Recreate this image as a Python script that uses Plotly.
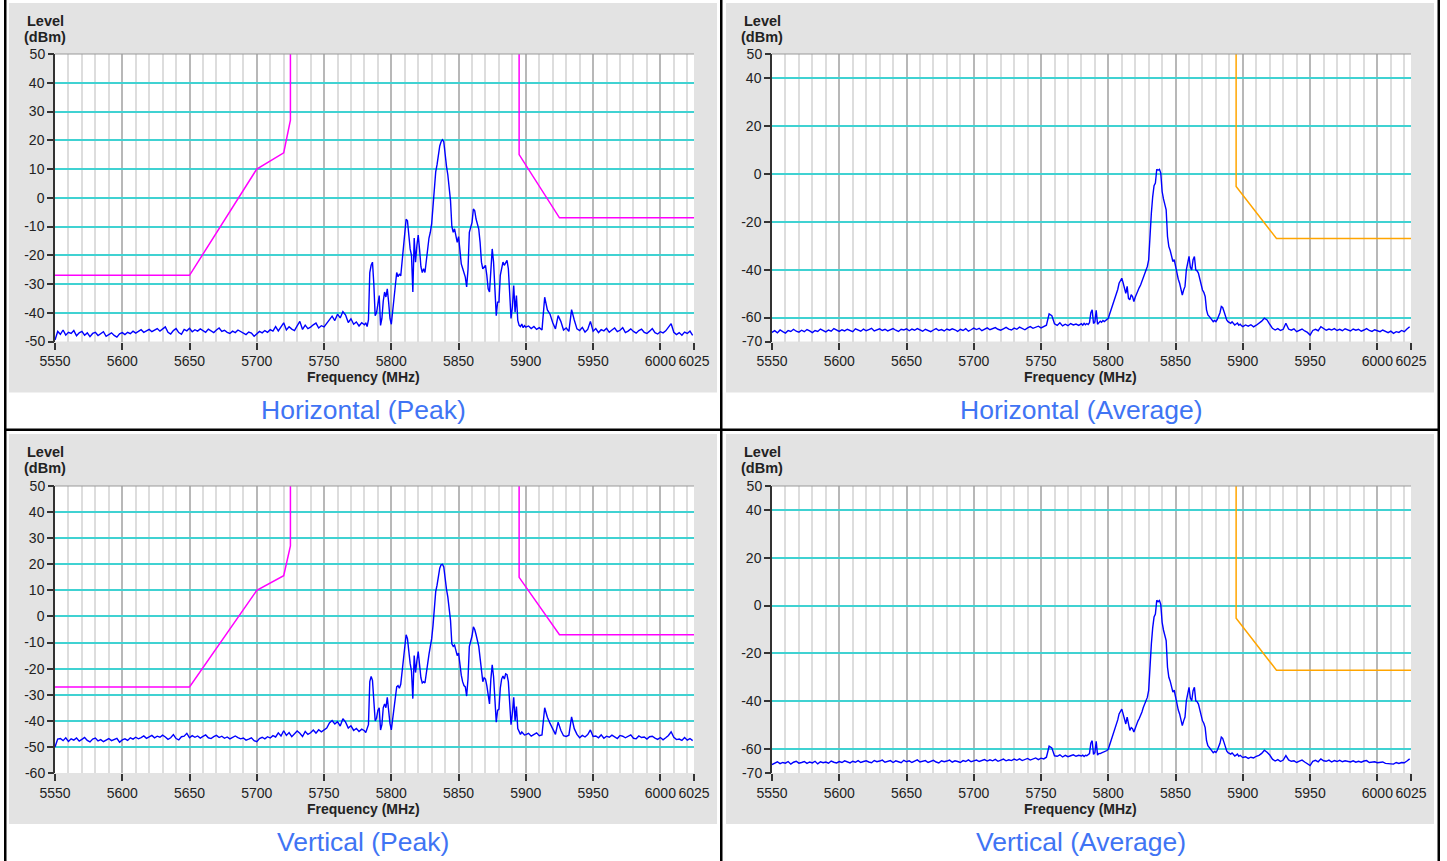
import plotly.graph_objects as go

W, H = 1447, 861

# ---------------- data ----------------
X_TICKS = [5550, 5600, 5650, 5700, 5750, 5800, 5850, 5900, 5950, 6000, 6025]
Y_TICKS_H_PEAK = [50, 40, 30, 20, 10, 0, -10, -20, -30, -40, -50]
Y_TICKS_V_PEAK = [50, 40, 30, 20, 10, 0, -10, -20, -30, -40, -50, -60]
Y_TICKS_AVG = [50, 40, 20, 0, -20, -40, -60, -70]

# sweep segments: (start MHz, step MHz)
SEG_A = (5550, 2)
SEG_B = (5780, 1)
SEG_C = (5900, 2)

H_PEAK_A = [-49.5, -46.5, -47.5, -46, -47.8, -46.8, -47.2, -46.2, -48, -47,
            -46.5, -47.8, -47, -48.3, -47.2, -46.8, -47.9, -47.3, -46.6, -48.2,
            -47.5, -47, -47.9, -48.5, -47.3, -46.9, -47.6, -46.8, -47.3, -46.4,
            -47.1, -46.6, -45.9, -46.8, -46.3, -45.8, -46.6, -46, -45.5, -46.4,
            -45.7, -44.9, -46.8, -47.4, -46.2, -45.5, -46.9, -47.5, -45.8, -46.3,
            -45.4, -46.6, -45.9, -46.4, -45.6, -46.2, -46.8, -45.7, -46.3, -46.9,
            -46, -45.3, -46.5, -46.1, -46.8, -47.2, -46.4, -46.9, -46, -46.6,
            -47.3, -47.6, -46.7, -47.1, -48.2, -47.2, -46.5, -47, -46.2, -46.8,
            -45.9, -46.4, -44.8, -46.3, -45.1, -43.5, -46, -44.9, -45.7, -46.2,
            -44.6, -43, -45.8, -44.3, -45.5, -45, -44.2, -43.6, -45.3, -44.5,
            -44.9, -43.8, -42.5, -41.2, -42.7, -40.5, -41.8, -39.6, -40.8, -43.4,
            -42.1, -44, -43.2, -44.6, -43.5]
H_PEAK_B = [-44.2, -43.5, -44.8, -42.5, -26, -23.5, -22.4, -30, -41, -40,
            -37, -34, -44.4, -42, -36, -32.8, -34.5, -31.7, -36.3, -42,
            -44, -40, -36, -31.7, -26, -27.5, -26.5, -27.2, -22.4, -16,
            -11, -7.5, -8, -13, -17.8, -20, -32.8, -14, -22.4, -16.6,
            -13, -18, -24, -26, -24.7, -26, -21.3, -16.6, -14, -12,
            -9, -3, 4, 9, 11.5, 15, 18, 19.5, 20.2, 19.5,
            14.5, 11, 8, 4, -1, -10, -12, -10.8, -13, -15.5,
            -13.5, -20, -23, -24.5, -26, -27.6, -31, -25, -12, -10,
            -8.6, -3.9, -4.5, -7.4, -9, -10.9, -15.5, -22.4, -24.7, -24,
            -23.5, -27, -31.7, -32.8, -25, -17.8, -22.4, -30.5, -41, -36.3,
            -36.3, -27, -24.7, -22.4, -23.5, -22.5, -21.8, -24.7, -31.7, -42,
            -38, -30.5, -39.8, -34, -42.7, -44.4, -44.8, -43.9, -45.2, -44.5]
H_PEAK_C = [-45, -44.6, -45.5, -44.8, -45.8, -45.2, -46, -34.6, -39, -40.5,
            -43.5, -45.6, -41, -43, -46, -45.3, -46.5, -38.9, -42.5, -45.6,
            -46.2, -45.1, -46.7, -45.8, -43, -46.4, -45.5, -46.9, -45.9, -46.3,
            -45.4, -46.8, -46, -45.3, -46.6, -46.1, -45.2, -46.9, -46.4, -45.6,
            -46.5, -47.1, -46.2, -45.7, -46.8, -47.2, -46.4, -45.5, -46.9, -47.4,
            -46.6, -47, -46.3, -45.2, -43.8, -46.8, -47.6, -46.9, -47.8, -46.7,
            -47.2, -46.4, -47.9]

H_AVG_A = [-66.2, -65.5, -66.4, -65.2, -65.9, -66.5, -65.4, -65.8, -64.9, -65.7,
           -66.1, -65.3, -65.9, -65, -65.6, -66.3, -65.4, -65.8, -64.8, -65.5,
           -66, -65.2, -65.7, -64.6, -65.3, -65.8, -65.1, -65.6, -64.9, -65.4,
           -65.9, -64.7, -65.3, -65.7, -64.8, -65.5, -65, -64.5, -65.6, -65.1,
           -64.7, -65.4, -64.9, -65.6, -65.2, -64.6, -65.3, -65.8, -64.9, -65.2,
           -64.7, -65.5, -64.8, -65.3, -64.6, -65.1, -65.7, -64.9, -65.4, -65.9,
           -65.2, -64.6, -65.4, -65, -65.6, -64.8, -65.3, -64.7, -65.1, -65.8,
           -64.9, -65.4, -64.6, -65.7, -65.1, -64.4, -65, -64.5, -65.5, -64.8,
           -64.3, -65.1, -64.6, -64.2, -64.9, -65.3, -64.7, -64.1, -64.8, -65.2,
           -64.4, -64.9, -64, -64.6, -65.1, -64.3, -63.8, -64.5, -64.1, -63.6,
           -64.3, -63.9, -63.2, -58.5, -59.2, -62.6, -63.3, -62.2, -63.5, -62.8,
           -63.4, -62.5, -63.1, -62.7, -63.3]
H_AVG_B = [-62.6, -63.2, -62.4, -63, -62.5, -62.9, -62.2, -58, -56.8, -62.5,
           -61.8, -57, -62.8, -62.1, -61.5, -62, -61.2, -61.7, -61.3, -60.9,
           -60.3, -58.5, -56.8, -55.2, -54, -52.5, -50.5, -48.3, -45.7, -44.5,
           -43.6, -45.5, -47.5, -49.9, -47, -52, -52.6, -50.5, -51.2, -53.3,
           -51.5, -49.9, -48.6, -47.5, -46.4, -44.8, -42.9, -41.5, -40.2, -38.7,
           -35.9, -23.4, -16.4, -9.5, -5, -3.9, 1.9, 1.5, 1.9, 0.3,
           -7.4, -10.5, -13, -15, -26.2, -30.4, -32, -33.8, -36.6, -35.8,
           -38.7, -42, -44, -45.7, -48, -50.6, -48.5, -47, -40.1, -37,
           -34.5, -39, -40.1, -35.9, -34.5, -40.1, -40.5, -41.5, -44.3, -45.7,
           -48.5, -49.5, -51.2, -56.8, -58.9, -59.5, -60.3, -61.2, -61.7, -61.2,
           -61.7, -60.8, -59.6, -58, -55.4, -55.8, -57.5, -59.5, -61, -61.7,
           -62.2, -62.4, -61.8, -62.6, -63.1, -62.7, -62.3, -63.2, -62.8, -63.4]
H_AVG_C = [-63.8, -63.1, -63.6, -63, -63.9, -63.2, -62.4, -61.5, -60.3, -61,
           -62.8, -64.5, -65.2, -64.6, -65.4, -64.9, -62.4, -64.8, -65.3, -64.7,
           -65.9, -65.2, -64.8, -65.6, -66.2, -67.3, -65.4, -64.9, -65.5, -63.8,
           -64.7, -65.3, -64.8, -65.2, -64.6, -65.4, -64.9, -65.5, -64.7, -65.1,
           -65.6, -64.8, -65.3, -64.9, -65.7, -65.2, -64.6, -65.4, -65.8, -65.1,
           -65.5, -65.9, -65.2, -65.8, -66.3, -65.7, -66.6, -65.9, -66.2, -65.4,
           -65.9, -64.8, -63.8]

V_PEAK_A = [-50, -47, -46.8, -47.6, -46.5, -47.9, -46.9, -47.4, -46.6, -47.8,
            -47.1, -46.4, -47.5, -48.1, -47, -46.6, -47.7, -47.2, -48, -47.4,
            -46.8, -47.6, -47.1, -46.7, -48.2, -47.3, -46.9, -47.5, -46.5, -47,
            -46.3, -46.9, -46.4, -45.8, -46.7, -46.1, -45.6, -46.5, -45.9, -46.3,
            -45.5, -46.2, -47.1, -46.5, -45.3, -46.8, -47.3, -46.1, -45.9, -44.8,
            -46.5, -45.7, -46.3, -45.8, -46.6, -46, -45.4, -46.5, -46.8, -46.1,
            -45.6, -46.4, -45.9, -46.7, -46.2, -46.9, -46.5, -45.8, -46.4, -46.9,
            -46.6, -47.4, -47, -46.5, -47.6, -48, -46.8, -46.3, -46.9, -46.1,
            -46.6, -45.7, -46.2, -44.6, -45.8, -43.8, -45.6, -44.5, -46.1, -45,
            -43.9, -44.8, -46, -44.1, -45.2, -44.6, -43.5, -44.7, -43.4, -44.2,
            -43.6, -42.8, -40.8, -39.9, -41.2, -40.3, -42, -39.2, -40.5, -42.8,
            -41.9, -43.7, -42.9, -44.1, -43.2]
V_PEAK_B = [-43.8, -44.5, -43.2, -41.5, -25, -23, -24.5, -31, -40, -39,
            -36, -35, -43.5, -41.5, -35, -33.5, -35, -31, -37, -41,
            -43.5, -39, -35, -30.5, -27, -26.5, -27.5, -26, -21.5, -15.5,
            -10.5, -7, -8.5, -14, -18, -21, -31.5, -15, -21.5, -17,
            -13.5, -18.5, -23.5, -25.5, -25, -25.5, -21, -17, -14.5, -11.5,
            -8.5, -3.5, 4.5, 9.5, 12, 15.5, 18.5, 19.8, 20, 19,
            14, 10.5, 7.5, 3.5, -1.5, -10.5, -11.5, -11, -13.5, -15,
            -14, -19.5, -22.5, -25, -26.5, -27, -30.5, -24, -11.5, -9.5,
            -7.5, -4, -5, -7, -9.5, -11.5, -16, -22, -25, -23.5,
            -24, -26.5, -31, -33.5, -24, -18.5, -23, -31, -40.5, -36,
            -35.5, -27.5, -24, -22.8, -24, -22, -22.3, -25, -32.5, -41.5,
            -37, -31, -40, -34.5, -43, -44, -45.2, -44.3, -44.8, -45.4]
V_PEAK_C = [-45.3, -44.8, -45.9, -45.1, -44.6, -45.7, -45.4, -35, -38.6, -41,
            -43, -45.2, -40.5, -43.6, -45.7, -46, -45.5, -38.5, -43, -45.2,
            -46.5, -45.6, -46.2, -45.3, -43.5, -46, -45.8, -46.5, -45.4, -46.7,
            -45.9, -46.3, -45.5, -46.1, -46.8, -45.6, -45.9, -46.5, -46.1, -45.4,
            -46.7, -46.9, -45.8, -46.4, -46.2, -47, -46.1, -45.9, -46.6, -47.1,
            -46.4, -47.3, -46.5, -45.6, -44.2, -46.3, -47.2, -47, -47.5, -46.4,
            -47.4, -46.8, -47.6]

V_AVG_A = [-66.5, -65.8, -65.3, -66.1, -65.6, -65.9, -65.2, -66.3, -65.5, -65.1,
           -65.9, -65.6, -65.2, -66, -65.4, -65.8, -65.1, -66.2, -65.3, -65.7,
           -65.4, -65.9, -65, -65.5, -65.8, -65.2, -65.6, -64.9, -65.3, -65.8,
           -65.1, -65.5, -64.8, -65.6, -65.2, -64.9, -65.4, -65.7, -64.8, -65.3,
           -65, -64.6, -65.5, -65.1, -64.8, -65.6, -64.9, -65.3, -65.7, -64.7,
           -65.3, -64.9, -65.6, -65, -64.5, -65.4, -65.2, -64.8, -65.6, -65.1,
           -64.7, -65.4, -65.8, -64.9, -65.3, -65, -64.6, -65.5, -64.9, -65.2,
           -65.6, -64.8, -65.2, -64.5, -65.3, -64.9, -64.6, -65.2, -64.8, -64.4,
           -65, -64.5, -64.9, -64.3, -65.1, -64.6, -64.2, -64.9, -64.5, -64.8,
           -64.2, -64.7, -64.1, -64.8, -64.4, -63.9, -64.6, -64.2, -63.7, -64.4,
           -63.8, -64.1, -63.4, -58.8, -59.5, -62.8, -63, -62.4, -63.3, -62.6,
           -63.2, -62.8, -62.4, -63, -62.6]
V_AVG_B = [-62.9, -62.5, -63.1, -62.6, -62.8, -62.3, -61.9, -57.5, -56.5, -62.2,
           -61.5, -56.8, -62.5, -61.8, -61.9, -61.6, -61.4, -61.2, -61, -60.6,
           -60, -58.2, -56.5, -55, -53.6, -52, -50, -47.8, -45.3, -44,
           -43.3, -45.3, -47.6, -49.5, -46.6, -48.8, -52.2, -51, -51.5, -52.9,
           -51.2, -49.6, -48.3, -47.2, -46, -44.5, -42.6, -41.2, -40, -38.4,
           -35.5, -23, -16, -9.2, -4.8, -3.5, 2.2, 1.6, 2.1, 0.5,
           -7, -10.2, -12.6, -14.6, -25.8, -30, -31.6, -33.5, -36.2, -35.4,
           -38.3, -41.6, -43.7, -45.3, -47.6, -50.2, -48.2, -46.6, -39.8, -36.6,
           -34.2, -38.7, -39.8, -35.6, -34.2, -39.8, -40.2, -41.2, -44, -45.4,
           -48.2, -49.2, -51, -56.5, -58.6, -59.3, -60, -61, -61.5, -61,
           -61.4, -60.5, -59.2, -57.6, -55, -55.5, -57.2, -59.2, -60.8, -61.5,
           -62, -62.1, -61.6, -62.4, -62.9, -62.5, -62.1, -63, -62.6, -63.1]
V_AVG_C = [-63.5, -63.2, -63.9, -63.4, -63.7, -63, -62.6, -61.8, -60.5, -61.3,
           -62.5, -64.2, -65, -64.4, -65.2, -64.6, -62.7, -64.5, -65.1, -64.9,
           -65.6, -65, -64.6, -65.4, -66, -66.9, -65.1, -64.7, -65.3, -64.1,
           -64.9, -65.1, -64.6, -65.4, -64.8, -65.2, -64.7, -65.3, -64.9, -65.3,
           -65.4, -64.9, -65.5, -65.1, -65.5, -65, -64.8, -65.6, -65.5, -65.3,
           -65.7, -65.6, -65.4, -66, -66.1, -65.9, -66.3, -65.6, -66, -65.6,
           -65.7, -65, -64.1]

# limit masks
PEAK_MASK_LOW_F = [5550, 5650, 5700, 5720, 5725, 5725]
PEAK_MASK_LOW_L = [-27, -27, 10, 15.6, 27, 50]
PEAK_MASK_HIGH_F = [5895, 5895, 5925, 6025]
PEAK_MASK_HIGH_L = [50, 15, -7, -7]
AVG_MASK_F = [5895, 5895, 5925, 6025]
AVG_MASK_L = [50, -5.3, -27, -27]

TITLES = ["Horizontal (Peak)", "Horizontal (Average)", "Vertical (Peak)", "Vertical (Average)"]


def sweep(seg, vals):
    start, step = seg
    return [start + step * i for i in range(len(vals))]


def trace_xy(a, b, c):
    return sweep(SEG_A, a) + sweep(SEG_B, b) + sweep(SEG_C, c), a + b + c


# ---------------- layout geometry (pixels) ----------------
FONT = "Liberation Sans, Arial, sans-serif"
TEXT_C = "#222222"
GRAY_BG = "#e3e3e3"
CYAN = "#40d2d2"
TITLE_C = "#3f74f4"

PLOT_X = {"L": (55, 694), "R": (772, 1411)}
PLOT_Y = {"T": (54, 341.5), "B": (486, 773)}
PANEL_X = {"L": (9, 717), "R": (726, 1434)}
PANEL_Y = {"T": (3, 392.5), "B": (434, 824)}
CELL_CX = {"L": 363, "R": 1081}

panels = [
    dict(col="L", row="T", data=(H_PEAK_A, H_PEAK_B, H_PEAK_C), yr=(-50, 50),
         yt=Y_TICKS_H_PEAK, masks=[(PEAK_MASK_LOW_F, PEAK_MASK_LOW_L), (PEAK_MASK_HIGH_F, PEAK_MASK_HIGH_L)],
         mc="#ff00ff", title=TITLES[0]),
    dict(col="R", row="T", data=(H_AVG_A, H_AVG_B, H_AVG_C), yr=(-70, 50),
         yt=Y_TICKS_AVG, masks=[(AVG_MASK_F, AVG_MASK_L)], mc="#ffa500", title=TITLES[1]),
    dict(col="L", row="B", data=(V_PEAK_A, V_PEAK_B, V_PEAK_C), yr=(-60, 50),
         yt=Y_TICKS_V_PEAK, masks=[(PEAK_MASK_LOW_F, PEAK_MASK_LOW_L), (PEAK_MASK_HIGH_F, PEAK_MASK_HIGH_L)],
         mc="#ff00ff", title=TITLES[2]),
    dict(col="R", row="B", data=(V_AVG_A, V_AVG_B, V_AVG_C), yr=(-70, 50),
         yt=Y_TICKS_AVG, masks=[(AVG_MASK_F, AVG_MASK_L)], mc="#ffa500", title=TITLES[3]),
]


def px(x):
    return x / W


def py(y):
    return 1 - y / H


fig = go.Figure()
shapes = []
annotations = []
layout = {}

# gray panels and white plot areas (paper coords, below everything)
for p in panels:
    x0, x1 = PANEL_X[p["col"]]
    y0, y1 = PANEL_Y[p["row"]]
    shapes.append(dict(type="rect", xref="paper", yref="paper", x0=px(x0), x1=px(x1),
                       y0=py(y1), y1=py(y0), fillcolor=GRAY_BG, line=dict(width=0), layer="below"))
for p in panels:
    x0, x1 = PLOT_X[p["col"]]
    y0, y1 = PLOT_Y[p["row"]]
    shapes.append(dict(type="rect", xref="paper", yref="paper", x0=px(x0), x1=px(x1),
                       y0=py(y1), y1=py(y0), fillcolor="white", line=dict(width=0), layer="below"))

# table borders
for (bx0, by0, bx1, by1) in [(4, 0, 6.5, 861), (720, 0, 722.5, 861), (1437.5, 0, 1440, 861),
                             (4, 428.5, 1440, 431)]:
    shapes.append(dict(type="rect", xref="paper", yref="paper", x0=px(bx0), x1=px(bx1),
                       y0=py(by1), y1=py(by0), fillcolor="#000000", line=dict(width=0), layer="above"))

n = len(panels)
for i, p in enumerate(panels, start=1):
    sfx = "" if i == 1 else str(i)
    xa, ya = "x" + sfx, "y" + sfx
    ya_end = "y" + str(i + n)          # overlay axis that labels the range ends
    x0, x1 = PLOT_X[p["col"]]
    y0, y1 = PLOT_Y[p["row"]]
    lo, hi = p["yr"]
    inner = [v for v in p["yt"] if lo < v < hi]
    ends = [v for v in p["yt"] if v in (lo, hi)]
    tick_common = dict(ticks="outside", ticklen=6, tickwidth=1.5, tickcolor="#333333",
                       tickfont=dict(family=FONT, size=14, color=TEXT_C), zeroline=False,
                       fixedrange=True, automargin=False)
    layout["xaxis" + sfx] = dict(
        domain=[px(x0), px(x1)], range=[5550, 6025], anchor=ya,
        tickmode="array", tickvals=X_TICKS, ticktext=[str(v) for v in X_TICKS],
        ticks="outside", ticklen=7, tickwidth=1.5, tickcolor="#333333", tickangle=0,
        tickfont=dict(family=FONT, size=14, color=TEXT_C),
        showgrid=True, gridcolor="#b8b8b8", gridwidth=1.5,
        minor=dict(tickmode="linear", tick0=5550, dtick=10, showgrid=True,
                   gridcolor="#dddddd", gridwidth=2, ticks=""),
        showline=False, zeroline=False, fixedrange=True, automargin=False,
    )
    # main y axis: interior ticks with cyan grid lines
    layout["yaxis" + sfx] = dict(
        domain=[py(y1), py(y0)], range=[lo, hi], anchor=xa,
        tickmode="array", tickvals=inner, ticktext=[str(v) for v in inner],
        showgrid=True, gridcolor=CYAN, gridwidth=2,
        showline=True, linecolor="#333333", linewidth=1.5, **tick_common,
    )
    # overlay y axis: range-end labels without grid lines
    layout["yaxis" + str(i + n)] = dict(
        overlaying=ya, anchor=xa, side="left", range=[lo, hi],
        tickmode="array", tickvals=ends, ticktext=[str(v) for v in ends],
        showgrid=False, showline=False, **tick_common,
    )
    fig.add_trace(go.Scatter(x=[None], y=[None], xaxis=xa, yaxis=ya_end, mode="lines",
                             hoverinfo="skip", showlegend=False))
    # top border of plot
    shapes.append(dict(type="line", xref=xa + " domain", yref=ya + " domain", x0=0, x1=1, y0=1, y1=1,
                       line=dict(color="#999999", width=1), layer="above"))
    # masks
    for mf, ml in p["masks"]:
        fig.add_trace(go.Scatter(x=mf, y=ml, mode="lines", xaxis=xa, yaxis=ya,
                                 line=dict(color=p["mc"], width=1.5), hoverinfo="skip", showlegend=False))
    fx, fy = trace_xy(*p["data"])
    fig.add_trace(go.Scatter(x=fx, y=fy, mode="lines", xaxis=xa, yaxis=ya,
                             line=dict(color="#0000ff", width=1.4), hoverinfo="skip", showlegend=False))

    # texts
    pcx = (PANEL_X[p["col"]][0] + PANEL_X[p["col"]][1]) / 2
    ytop = PANEL_Y[p["row"]][0]
    lx = PANEL_X[p["col"]][0] + 36
    annotations.append(dict(text="<b>Level</b>", xref="paper", yref="paper", x=px(lx), y=py(ytop + 17.5),
                            xanchor="center", yanchor="middle", showarrow=False,
                            font=dict(family=FONT, size=14.5, color=TEXT_C)))
    annotations.append(dict(text="<b>(dBm)</b>", xref="paper", yref="paper", x=px(lx), y=py(ytop + 34),
                            xanchor="center", yanchor="middle", showarrow=False,
                            font=dict(family=FONT, size=14.5, color=TEXT_C)))
    annotations.append(dict(text="<b>Frequency (MHz)</b>", xref="paper", yref="paper", x=px(pcx),
                            y=py(y1 + 35.5), xanchor="center", yanchor="middle", showarrow=False,
                            font=dict(family=FONT, size=14, color=TEXT_C)))
    annotations.append(dict(text=p["title"], xref="paper", yref="paper", x=px(CELL_CX[p["col"]]),
                            y=py(PANEL_Y[p["row"]][1] + 17.5), xanchor="center", yanchor="middle",
                            showarrow=False, font=dict(family=FONT, size=26.5, color=TITLE_C)))

fig.update_layout(
    template="none",
    width=W, height=H, autosize=False,
    margin=dict(l=0, r=0, t=0, b=0, pad=0, autoexpand=False),
    paper_bgcolor="white", plot_bgcolor="white",
    shapes=shapes, annotations=annotations, showlegend=False,
    **layout,
)

fig.write_html("out.html", config={"displayModeBar": False})

# remove the browser's default page margin so the figure sits at (0, 0)
with open("out.html", "r", encoding="utf-8") as fh:
    html = fh.read()
html = html.replace("<body>", "<body style=\"margin:0;padding:0;overflow:hidden\">", 1)
with open("out.html", "w", encoding="utf-8") as fh:
    fh.write(html)
